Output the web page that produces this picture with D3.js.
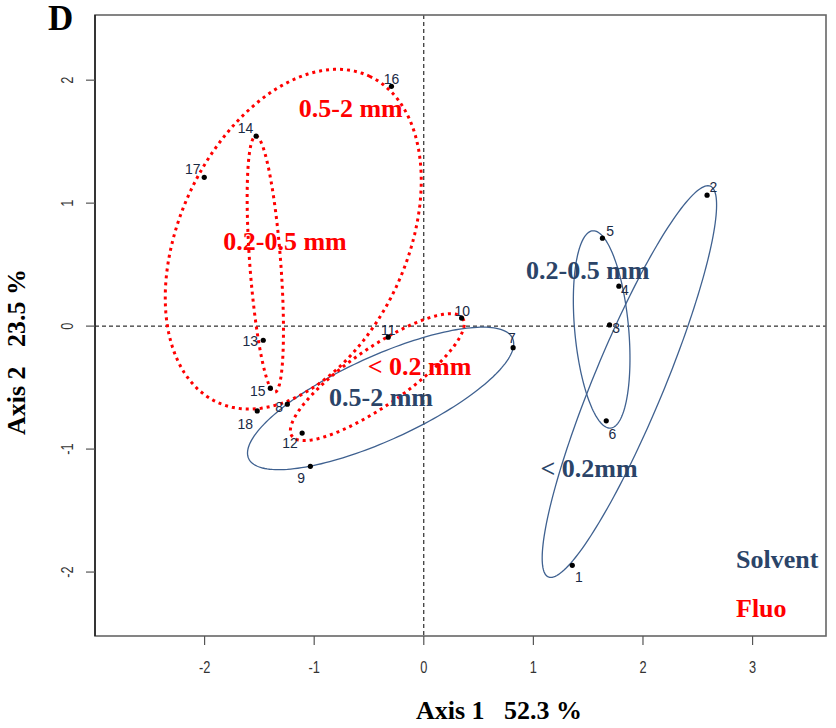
<!DOCTYPE html>
<html>
<head>
<meta charset="utf-8">
<script src="https://cdn.jsdelivr.net/npm/d3@7"></script>
<style>
  body { margin: 0; background: #fff; }
  svg { display: block; }
</style>
</head>
<body>
<div id="chart"></div>
<script>
// sample scores on the first two axes
var sampleIds = ["1","2","3","4","5","6","7","8","9","10","11","12","13","14","15","16","17","18"];
var axis1 = [1.355, 2.585, 1.695, 1.780, 1.630, 1.665, 0.815, -1.245, -1.035, 0.345, -0.325, -1.110, -1.465, -1.530, -1.400, -0.295, -2.003, -1.520];
var axis2 = [-1.945, 1.065, 0.010, 0.325, 0.715, -0.770, -0.175, -0.635, -1.140, 0.065, -0.090, -0.870, -0.115, 1.545, -0.505, 1.950, 1.210, -0.690];

// label nudges (px): centre x, baseline y relative to the point
var labelDx = [6.5, 6.3, 6.5, 6, 7.7, 6, -1.3, -8.3, -9.3, 0.7, 0, -12.2, -13, -10.7, -12.7, 0, -11.5, -12];
var labelDy = [16.7, -2.7, 8, 8.7, -2.3, 18, -4.3, 8.2, 16.5, -2.3, -2.3, 15.3, 6.2, -2.7, 7.7, -2.7, -3, 18.3];

// group ellipses: centre, major semi-axis vector, minor semi-axis vector (data units)
var ellipseGroup  = ["Solvent", "Solvent", "Solvent", "Fluo", "Fluo", "Fluo"];
var ellipseClass  = ["< 0.2mm", "0.2-0.5 mm", "0.5-2 mm", "< 0.2 mm", "0.2-0.5 mm", "0.5-2 mm"];
var ellipseCx     = [1.876, 1.623, -0.394, -0.424, -1.446, -1.191];
var ellipseCy     = [-0.451, -0.027, -0.588, -0.415, 0.504, 0.707];
var ellipseAx     = [0.739, -0.082, 1.204, 0.779, -0.087, 0.696];
var ellipseAy     = [1.589, 0.802, 0.489, 0.479, 1.041, 1.325];
var ellipseBx     = [0.295, 0.245, 0.159, 0.149, 0.141, 0.938];
var ellipseBy     = [-0.109, 0.020, -0.311, -0.192, 0.009, -0.391];
// where each class label sits (data units, label centre / baseline)
var classLabelX   = [1.508, 1.496, -0.390, -0.039, -1.266, -0.666];
var classLabelY   = [-1.225, 0.380, -0.650, -0.398, 0.618, 1.699];

var xTicks = [-2, -1, 0, 1, 2, 3];
var yTicks = [-2, -1, 0, 1, 2];
var legendGroups = ["Solvent", "Fluo"];

var width = 836, height = 728;
var margin = {top: 15, right: 10, bottom: 92, left: 95};

var groupColor = {Solvent: "#2b4468", Fluo: "#ff0000"};
var lineColor = {Solvent: "#3f6190", Fluo: "#ff0000"};

var svg = d3.select("#chart").append("svg")
  .attr("width", width)
  .attr("height", height);

var x = d3.scaleLinear().domain([-3.0, 3.67]).range([margin.left, width - margin.right]);
var y = d3.scaleLinear().domain([-2.52, 2.53]).range([height - margin.bottom, margin.top]);

var x0 = x.range()[0], x1 = x.range()[1], y0 = y.range()[1], y1 = y.range()[0];

// zero lines
svg.append("line")
  .attr("x1", x(0)).attr("x2", x(0)).attr("y1", y0).attr("y2", y1)
  .attr("stroke", "#000").attr("stroke-width", 1).attr("stroke-dasharray", "4,3");
svg.append("line")
  .attr("x1", x0).attr("x2", x1).attr("y1", y(0)).attr("y2", y(0))
  .attr("stroke", "#000").attr("stroke-width", 1).attr("stroke-dasharray", "4,3");

// ellipses
var ellipses = ellipseGroup.map(function (g, i) {
  return {group: g, name: ellipseClass[i], cx: ellipseCx[i], cy: ellipseCy[i],
          ax: ellipseAx[i], ay: ellipseAy[i], bx: ellipseBx[i], by: ellipseBy[i],
          lx: classLabelX[i], ly: classLabelY[i]};
});

var line = d3.line()
  .x(function (p) { return x(p[0]); })
  .y(function (p) { return y(p[1]); })
  .curve(d3.curveLinearClosed);

svg.selectAll("path.ell")
  .data(ellipses)
  .enter().append("path")
  .attr("class", "ell")
  .attr("fill", "none")
  .attr("stroke", function (d) { return lineColor[d.group]; })
  .attr("stroke-width", function (d) { return d.group == "Fluo" ? 3 : 1.3; })
  .attr("stroke-dasharray", function (d) { return d.group == "Fluo" ? "3,4" : null; })
  .attr("d", function (d) {
    var pts = d3.range(0, 360, 2).map(function (deg) {
      var t = deg * Math.PI / 180;
      return [d.cx + d.ax * Math.cos(t) + d.bx * Math.sin(t),
              d.cy + d.ay * Math.cos(t) + d.by * Math.sin(t)];
    });
    return line(pts);
  });

// points
var samples = sampleIds.map(function (id, i) {
  return {id: id, a1: axis1[i], a2: axis2[i], dx: labelDx[i], dy: labelDy[i]};
});

svg.selectAll("circle.pt")
  .data(samples)
  .enter().append("circle")
  .attr("class", "pt")
  .attr("cx", function (d) { return x(d.a1); })
  .attr("cy", function (d) { return y(d.a2); })
  .attr("r", 2.6)
  .attr("fill", "#000");

svg.selectAll("text.pt-label")
  .data(samples)
  .enter().append("text")
  .attr("class", "pt-label")
  .attr("transform", function (d) {
    return "translate(" + (x(d.a1) + d.dx) + "," + (y(d.a2) + d.dy) + ") scale(0.9,1)";
  })
  .attr("text-anchor", "middle")
  .attr("font-family", "Liberation Sans, Arial, sans-serif")
  .attr("font-size", 15.5)
  .attr("fill", "#1a2a44")
  .text(function (d) { return d.id; });

// class labels
svg.selectAll("text.cls")
  .data(ellipses)
  .enter().append("text")
  .attr("class", "cls")
  .attr("x", function (d) { return x(d.lx); })
  .attr("y", function (d) { return y(d.ly); })
  .attr("text-anchor", "middle")
  .attr("font-family", "Liberation Serif, Times New Roman, serif")
  .attr("font-weight", "bold")
  .attr("font-size", 26)
  .attr("fill", function (d) { return groupColor[d.group]; })
  .text(function (d) { return d.name; });

// legend text
svg.selectAll("text.leg")
  .data(legendGroups)
  .enter().append("text")
  .attr("class", "leg")
  .attr("x", 736)
  .attr("y", function (d, i) { return 568 + i * 49; })
  .attr("font-family", "Liberation Serif, Times New Roman, serif")
  .attr("font-weight", "bold")
  .attr("font-size", 26)
  .attr("fill", function (d) { return groupColor[d]; })
  .text(function (d) { return d; });

// box
svg.append("rect")
  .attr("x", x0).attr("y", y0)
  .attr("width", x1 - x0).attr("height", y1 - y0)
  .attr("fill", "none").attr("stroke", "#666").attr("stroke-width", 1.6);
svg.append("line")
  .attr("x1", x0).attr("x2", x0).attr("y1", y0).attr("y2", y1)
  .attr("stroke", "#000").attr("stroke-width", 1.2);

// x axis ticks
var xt = svg.selectAll("g.xt").data(xTicks).enter().append("g").attr("class", "xt");
xt.append("line")
  .attr("x1", function (d) { return x(d); }).attr("x2", function (d) { return x(d); })
  .attr("y1", y1).attr("y2", y1 + 9)
  .attr("stroke", "#555").attr("stroke-width", 1.2);
xt.append("text")
  .attr("transform", function (d) { return "translate(" + x(d) + "," + (y1 + 37) + ") scale(0.8,1)"; })
  .attr("text-anchor", "middle")
  .attr("font-family", "Liberation Sans, Arial, sans-serif")
  .attr("font-size", 16)
  .attr("fill", "#333")
  .text(function (d) { return d; });

// y axis ticks
var yt = svg.selectAll("g.yt").data(yTicks).enter().append("g").attr("class", "yt");
yt.append("line")
  .attr("x1", x0 - 9).attr("x2", x0)
  .attr("y1", function (d) { return y(d); }).attr("y2", function (d) { return y(d); })
  .attr("stroke", "#555").attr("stroke-width", 1.2);
yt.append("text")
  .attr("transform", function (d) { return "translate(" + (x0 - 22) + "," + y(d) + ") rotate(-90) scale(0.8,1)"; })
  .attr("text-anchor", "middle")
  .attr("font-family", "Liberation Sans, Arial, sans-serif")
  .attr("font-size", 16)
  .attr("fill", "#333")
  .text(function (d) { return d; });

// axis titles
svg.append("text")
  .attr("x", 499).attr("y", 719)
  .attr("text-anchor", "middle")
  .attr("font-family", "Liberation Serif, Times New Roman, serif")
  .attr("font-weight", "bold")
  .attr("font-size", 26)
  .attr("fill", "#000")
  .text("Axis 1\u00a0\u00a0 52.3 %");

svg.append("text")
  .attr("transform", "translate(25,352) rotate(-90)")
  .attr("text-anchor", "middle")
  .attr("font-family", "Liberation Serif, Times New Roman, serif")
  .attr("font-weight", "bold")
  .attr("font-size", 26)
  .attr("fill", "#000")
  .text("Axis 2\u00a0\u00a0 23.5 %");

// panel letter
svg.append("text")
  .attr("x", 48).attr("y", 30)
  .attr("font-family", "Liberation Serif, Times New Roman, serif")
  .attr("font-weight", "bold")
  .attr("font-size", 35)
  .attr("fill", "#000")
  .text("D");
</script>
</body>
</html>
